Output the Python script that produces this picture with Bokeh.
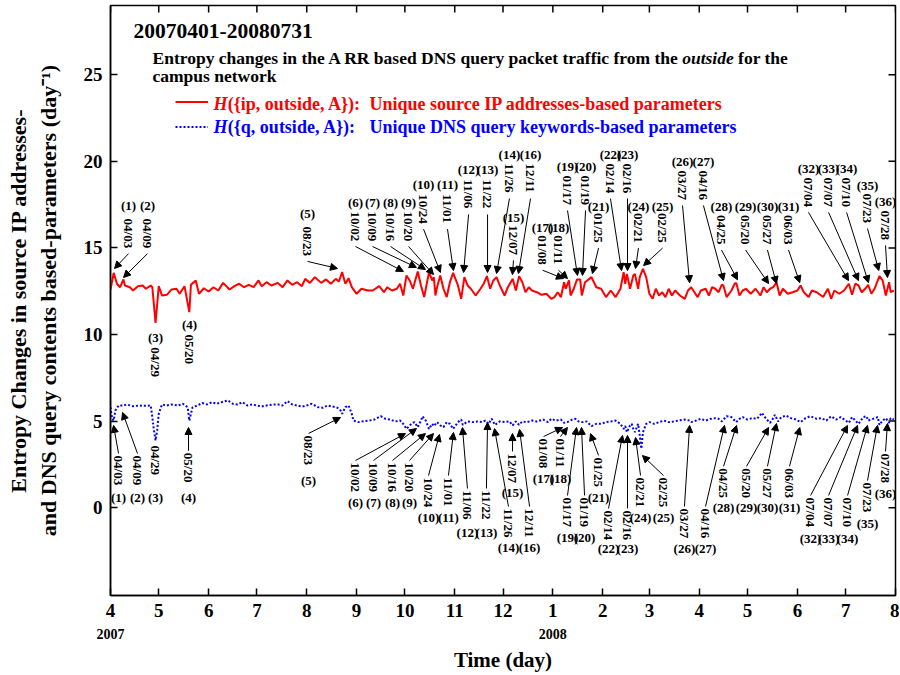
import math, glob
from bokeh.plotting import figure
from bokeh.models import (Range1d, FixedTicker, LinearAxis, Label, Arrow, NormalHead,
                          ColumnDataSource, Legend, LegendItem)
from bokeh.core.properties import value
from bokeh.embed import file_html
from bokeh.resources import INLINE

# ---------------- data (day offset from 2007-04-01, entropy value) ----------------
red_day = [0,2,4,6,8,9,12,14,17,20,22,25,26,28,30,32,35,38,41,43,46,49,50,53,55,58,61,64,67,70,74,77,80,83,86,89,92,94,97,100,104,107,110,113,116,119,121,124,127,131,134,137,140,142,144,146,148,150,153,156,160,
           163,167,170,172,175,178,180,182,184,186,188,191,193,195,198,200,201,202,203,205,207,209,211,213,216,218,220,222,224,227,230,232,234,236,238,240,242,245,247,250,252,254,256,258,260,262,265,268,271,274,276,278,280,282,283,285,286,288,290,292,293,295,299,302,305,308,311,314,317,319,320,321,323,
           325,326,328,329,331,333,335,337,339,341,343,345,347,349,351,354,357,359,361,363,365,367,370,372,374,376,378,380,381,383,386,388,389,391,393,395,398,401,404,406,408,410,412,414,416,418,421,424,427,429,431,434,436,439,443,446,448,450,453,456,459,461,463,465,467,470,471,473,475,478,480,482,484,485,487]
red_val = [12.60,13.56,12.93,12.73,13.18,12.83,12.73,12.54,12.79,12.83,12.64,12.83,12.73,10.67,12.79,12.25,12.29,12.60,12.64,12.35,12.79,11.29,12.87,13.12,12.35,12.67,12.48,12.73,12.54,12.98,12.60,12.79,12.93,12.73,12.87,12.73,13.12,12.79,13.02,12.83,12.98,12.73,13.12,12.87,13.02,12.79,13.21,12.98,13.31,12.98,13.18,12.93,13.21,13.06,13.60,12.93,13.25,12.73,12.35,12.64,12.54,
           12.54,12.79,12.44,12.73,12.54,12.64,12.93,12.25,13.41,13.12,12.64,13.64,12.83,12.16,13.60,13.12,13.31,12.25,12.73,13.41,12.64,12.16,13.02,13.56,12.83,12.06,13.31,12.83,12.64,12.25,12.64,12.93,13.37,12.64,13.12,13.31,12.83,12.25,12.73,13.21,12.54,13.37,13.02,12.44,12.73,12.54,12.44,12.29,12.35,12.06,12.16,12.44,12.16,13.02,12.64,13.12,12.25,12.64,13.18,13.18,12.25,13.02,13.31,12.73,12.64,12.16,12.54,12.16,12.64,13.60,12.93,13.50,12.64,
           13.41,13.50,12.64,13.31,13.79,13.31,12.35,12.06,12.64,12.25,12.44,12.16,12.64,12.25,12.54,12.25,12.06,12.54,12.73,12.44,12.16,12.54,12.64,12.25,12.73,12.64,12.44,12.87,12.83,12.16,12.54,12.93,12.98,12.25,12.54,12.64,12.35,12.64,12.25,12.73,12.44,12.64,12.73,13.02,12.25,12.64,12.35,12.44,12.54,12.83,12.44,12.16,12.54,12.44,12.16,12.64,12.06,12.54,12.35,12.54,12.93,12.29,12.93,12.83,12.44,12.73,12.87,12.35,12.64,13.37,13.12,12.25,13.02,12.44,12.54]

blue_day = [0,1,2,3,5,8,10,14,18,22,25,26,27,28,29,30,32,35,38,42,45,48,49,51,54,57,60,63,66,69,73,76,79,82,85,88,91,94,97,101,104,107,110,113,116,119,122,125,129,132,135,138,141,143,144,146,148,150,151,154,158,161,
            164,168,171,174,177,180,182,184,187,189,191,193,194,196,198,200,201,203,205,207,209,211,213,216,218,219,222,225,228,231,233,235,237,239,242,245,248,250,252,254,256,259,262,265,269,272,274,277,280,282,284,287,289,291,293,296,299,302,305,308,311,314,317,319,320,321,323,
            324,325,326,328,329,330,331,333,335,338,341,344,347,350,353,357,360,361,364,367,370,373,376,378,380,383,386,389,391,393,396,399,402,405,406,408,410,412,413,415,417,420,423,426,429,432,435,439,442,445,448,451,454,457,459,461,463,465,468,470,471,474,477,478,480,482,484,485,487]
blue_val = [5.80,5.13,5.03,5.61,5.90,5.90,5.96,5.86,5.90,5.88,5.90,5.23,4.46,3.88,4.46,5.42,5.96,5.90,5.96,5.90,6.00,5.80,5.03,5.80,5.90,6.04,5.96,6.09,6.00,6.09,6.19,6.00,5.96,6.09,5.90,5.96,5.90,5.84,5.90,5.96,5.96,5.90,6.15,5.96,5.90,5.84,5.90,6.00,5.80,5.77,5.90,5.84,5.77,5.61,5.42,5.80,5.90,5.42,5.03,4.94,5.00,5.03,
            5.09,5.28,5.13,5.09,4.98,5.03,4.84,4.55,4.84,4.94,4.65,5.03,5.28,5.03,4.55,4.84,4.71,4.94,4.75,4.65,4.94,4.84,4.55,4.94,5.09,4.78,4.98,4.94,4.98,4.94,5.03,4.84,5.13,4.78,4.98,4.94,4.98,4.75,4.98,4.78,4.98,4.94,5.03,4.98,5.09,4.94,5.13,5.03,5.09,4.90,4.94,5.09,5.13,4.98,4.94,4.98,4.71,4.84,4.84,4.94,4.98,5.03,4.84,4.55,4.71,4.36,4.75,
            4.84,4.55,4.36,4.84,4.17,3.40,4.36,4.84,4.94,4.84,4.94,5.03,4.94,4.98,5.03,5.09,5.03,4.94,5.03,5.13,5.03,5.13,5.17,5.13,4.98,5.28,5.23,4.94,5.13,5.23,5.09,5.17,5.13,5.48,5.32,5.09,4.90,5.17,5.36,4.98,5.23,5.32,5.17,5.09,4.94,5.17,5.28,5.13,5.17,5.03,5.28,5.09,5.23,5.03,4.90,5.23,5.03,4.84,5.23,5.28,5.03,5.13,5.23,4.78,5.03,5.17,4.90,5.17,5.09]

month_days = [0,30,61,91,122,153,183,214,244,275,306,335,366,396,427,457,488]
month_labels = ["4","5","6","7","8","9","10","11","12","1","2","3","4","5","6","7","8"]
year_days = [0, 275]
year_labels = ["2007", "2008"]
y_ticks = [0, 5, 10, 15, 20, 25]

ev_num = [f"({i})" for i in range(1, 37)]
ev_date = ["04/03","04/09","04/29","05/20","08/23","10/02","10/09","10/16","10/20","10/24","11/01","11/06",
           "11/22","11/26","12/07","12/11","01/08","01/11","01/17","01/19","01/25","02/14","02/16","02/21",
           "02/25","03/27","04/16","04/25","05/20","05/27","06/03","07/04","07/07","07/10","07/23","07/28"]

# ---------------- annotation layout (data units) ----------------
red_lx = [11.2,23.0,28.0,49.1,122.5,152.3,162.9,174.1,185.3,194.6,209.5,222.6,234.4,248.0,250.5,261.1,268.6,278.5,
          284.1,295.3,303.4,310.8,321.4,328.2,343.2,355.6,368.6,379.8,394.8,408.4,421.5,433.9,446.4,457.6,470.6,481.8]
red_ny = [17.45,17.45,9.83,10.58,16.99,17.62,17.62,17.62,17.62,18.66,18.66,19.53,19.53,20.39,16.76,20.39,16.18,16.18,
          19.70,19.70,17.39,20.39,20.39,17.39,17.39,19.99,19.99,17.39,17.39,17.39,17.39,19.58,19.58,19.58,18.60,17.68]
red_dy = [16.69,16.69,9.26,10.0,16.24,17.10,17.10,17.10,17.10,18.10,18.10,18.95,18.95,19.87,16.30,19.87,15.73,15.73,
          19.18,19.18,17.01,19.87,19.87,17.01,17.01,19.47,19.47,16.90,16.90,16.90,16.90,19.07,19.07,19.07,18.14,17.16]
red_hx = [2.5,8.1,None,None,141.1,182.1,190.2,195.8,200.8,205.1,213.2,219.5,234.4,240.0,249.9,253.6,281.6,284.1,
          290.3,293.4,299.6,317.7,321.4,326.4,331.4,360.0,381.1,389.8,409.1,414.0,428.5,458.8,465.0,471.2,477.6,483.0]
red_hy = [13.81,13.29,None,None,13.81,13.64,13.87,13.75,13.46,13.58,13.69,13.58,13.58,13.52,13.46,13.52,13.23,13.23,
          13.41,13.41,13.52,13.69,13.69,13.81,13.98,12.99,13.11,13.16,12.94,12.94,12.99,13.11,13.11,12.99,13.69,13.29]

blue_lx = [5.0,16.8,28.0,48.5,123.1,152.3,163.5,175.3,185.9,197.7,210.1,221.9,233.7,247.4,249.9,260.5,269.2,279.7,
           284.1,294.7,303.4,309.6,321.4,329.5,343.8,356.8,369.9,381.1,395.4,408.4,422.1,435.2,446.4,458.2,470.6,481.8]
blue_ny = [0.59,0.59,0.59,0.59,1.57,0.30,0.30,0.30,0.30,-0.57,-0.57,-1.43,-1.43,-2.30,0.88,-2.30,1.69,1.69,
           -1.72,-1.72,0.59,-2.36,-2.36,-0.57,-0.57,-2.36,-2.36,0.01,0.01,0.01,0.01,-1.78,-1.78,-1.78,-0.91,0.82]
blue_dy = [3.01,3.01,3.59,3.17,4.17,2.61,2.61,2.61,2.61,1.74,1.74,0.99,0.99,-0.05,3.13,-0.05,3.99,3.99,
           0.59,0.59,2.90,-0.16,-0.16,1.74,1.74,-0.05,-0.05,2.27,2.27,2.27,2.27,0.59,0.59,0.59,1.45,3.13]
blue_hx = [1.9,7.5,None,48.5,143.0,183.4,190.2,195.8,200.8,204.5,213.2,218.8,234.4,238.7,249.9,254.3,281.0,284.1,
           289.7,292.8,298.4,318.3,321.4,326.4,330.7,360.0,381.7,389.2,409.1,414.0,428.5,458.2,464.4,470.6,476.8,483.0]
blue_hy = [4.75,5.50,None,4.63,5.21,4.28,4.57,4.28,4.28,4.23,4.34,4.63,4.92,4.57,4.28,4.52,4.63,4.63,
           4.63,4.63,4.28,4.17,4.17,4.05,3.01,4.75,4.75,4.75,4.63,4.86,4.63,4.75,4.75,4.75,4.75,4.86]

FONT = "Liberation Serif"
FW, FH = 785, 590
PXV = 17.32
X0, X1 = 0, 488
Y0 = -5.07
Y1 = Y0 + FH / PXV
PXD = FW / (X1 - X0)
TXT_LEN = 33 / PXV      # length of rotated date text
GAP = 2 / PXV

def measure(s, size, style="bold"):
    files = {"bold": "LiberationSerif-Bold.ttf", "bold italic": "LiberationSerif-BoldItalic.ttf"}
    try:
        from PIL import ImageFont
        path = glob.glob("/usr/share/fonts/**/" + files[style], recursive=True)[0]
        return ImageFont.truetype(path, size).getlength(s)
    except Exception:
        return 0.47 * size * len(s)

p = figure(frame_width=FW, frame_height=FH, x_range=Range1d(X0, X1), y_range=Range1d(Y0, Y1),
           output_backend="svg", toolbar_location=None,
           min_border_left=110, min_border_right=4, min_border_top=5, min_border_bottom=0)
p.xgrid.visible = False
p.ygrid.visible = False
p.outline_line_color = "black"
p.outline_line_width = 1.5
p.background_fill_color = "white"

def style_axis(ax, size="19px"):
    ax.axis_line_width = 1.5
    ax.major_tick_line_width = 1.5
    ax.major_tick_in = 7
    ax.major_tick_out = 0
    ax.minor_tick_line_color = None
    ax.major_label_text_font = FONT
    ax.major_label_text_font_style = "bold"
    ax.major_label_text_font_size = size
    ax.major_label_text_color = "black"

xa = p.xaxis[0]
xa.ticker = FixedTicker(ticks=month_days)
xa.major_label_overrides = {d: l for d, l in zip(month_days, month_labels)}
style_axis(xa)
xa.major_label_standoff = 8

ya = p.yaxis[0]
ya.ticker = FixedTicker(ticks=y_ticks)
style_axis(ya)
ya.major_label_standoff = 8
ya.axis_label = "Entropy Changes in source IP addresses-\nand DNS query contents based-parameters (day\u207b\u00b9)"
ya.axis_label_text_font = FONT
ya.axis_label_text_font_style = "bold"
ya.axis_label_text_font_size = "22px"
ya.axis_label_text_color = "black"
ya.axis_label_standoff = 20

yr = LinearAxis(ticker=FixedTicker(ticks=year_days),
                major_label_overrides={d: l for d, l in zip(year_days, year_labels)},
                axis_line_color=None, major_tick_line_color=None, minor_tick_line_color=None,
                major_tick_in=0, major_tick_out=0, major_label_standoff=9,
                major_label_text_font=FONT, major_label_text_font_style="bold",
                major_label_text_font_size="14px", major_label_text_color="black",
                axis_label="Time (day)", axis_label_text_font=FONT, axis_label_text_font_style="bold",
                axis_label_text_font_size="21px", axis_label_text_color="black", axis_label_standoff=6)
p.add_layout(yr, "below")

# mirrored ticks on the top and right edges of the frame
n_m, n_y = len(month_days), len(y_ticks)
p.segment(x0=month_days, y0=[Y1] * n_m, x1=month_days, y1=[Y1 - 7 / PXV] * n_m,
          line_color="black", line_width=1.5)
p.segment(x0=[X1] * n_y, y0=y_ticks, x1=[X1 - 7 / PXD] * n_y, y1=y_ticks,
          line_color="black", line_width=1.5)

r_red = p.line(red_day, red_val, line_color="#ff0000", line_width=2)
r_blue = p.line(blue_day, blue_val, line_color="#0000ff", line_width=2, line_dash="2 2")

# --------- annotations ---------
def add_labels(lx, ny, dy):
    p.text(x=lx, y=ny, text=ev_num, text_font=value(FONT), text_font_style="bold",
           text_font_size="13px", text_align="center", text_baseline="middle", text_color="black")
    p.text(x=lx, y=dy, text=ev_date, angle=-math.pi / 2, text_font=value(FONT), text_font_style="bold",
           text_font_size="13px", text_align="left", text_baseline="middle", text_color="black")

add_labels(red_lx, red_ny, red_dy)
add_labels(blue_lx, blue_ny, blue_dy)

def arrows(lx, ty, hx, hy):
    keep = [i for i in range(len(lx)) if hx[i] is not None]
    src = ColumnDataSource(dict(x0=[lx[i] for i in keep], y0=[ty[i] for i in keep],
                                x1=[hx[i] for i in keep], y1=[hy[i] for i in keep]))
    p.add_layout(Arrow(end=NormalHead(size=7, fill_color="black", line_color="black", line_width=1),
                       x_start="x0", y_start="y0", x_end="x1", y_end="y1", source=src,
                       line_color="black", line_width=1))

arrows(red_lx, [d - TXT_LEN - GAP for d in red_dy], red_hx, red_hy)
arrows(blue_lx, [d + GAP for d in blue_dy], blue_hx, blue_hy)

# --------- titles ---------
def lab(x, y, text, size, color="black", style="bold"):
    p.add_layout(Label(x=x, y=y, text=text, text_font=FONT, text_font_style=style, text_font_size=f"{size}px",
                       text_color=color, text_align="left", text_baseline="alphabetic"))

lab(14.3, 27.55, "20070401-20080731", 21.5)
SUB = 17.5
part1 = "Entropy changes in the A RR based DNS query packet traffic from the "
part2 = "outside"
part3 = "for the"
sx = 26.1
lab(sx, 25.94, part1, SUB)
w1 = measure(part1, SUB)
lab(sx + w1 / PXD, 25.94, part2, SUB, style="bold italic")
w2 = measure(part2 + " ", SUB, "bold italic")
lab(sx + (w1 + w2) / PXD, 25.94, part3, SUB)
lab(sx, 24.92, "campus network", SUB)

LEG = 18
for yv, col, key, rest in [(23.28, "#ff0000", "({ip, outside, A}):", "Unique source IP addresses-based parameters"),
                           (21.97, "#0000ff", "({q, outside, A}):", "Unique DNS query keywords-based parameters")]:
    lab(64.0, yv, "H", LEG, col, "bold italic")
    lab(72.9, yv, key, LEG, col)
    lab(161.0, yv, rest, LEG, col)

for rend, yloc in [(r_red, 485.5), (r_blue, 460)]:
    leg = Legend(items=[LegendItem(label="", renderers=[rend])], location=(65, yloc),
                 glyph_width=33, glyph_height=17, label_height=17, label_width=0, label_standoff=0,
                 padding=0, margin=0, spacing=0, border_line_color=None, background_fill_alpha=0,
                 label_text_font_size="1px")
    p.add_layout(leg)

open("out.html", "w").write(file_html(p, INLINE))
